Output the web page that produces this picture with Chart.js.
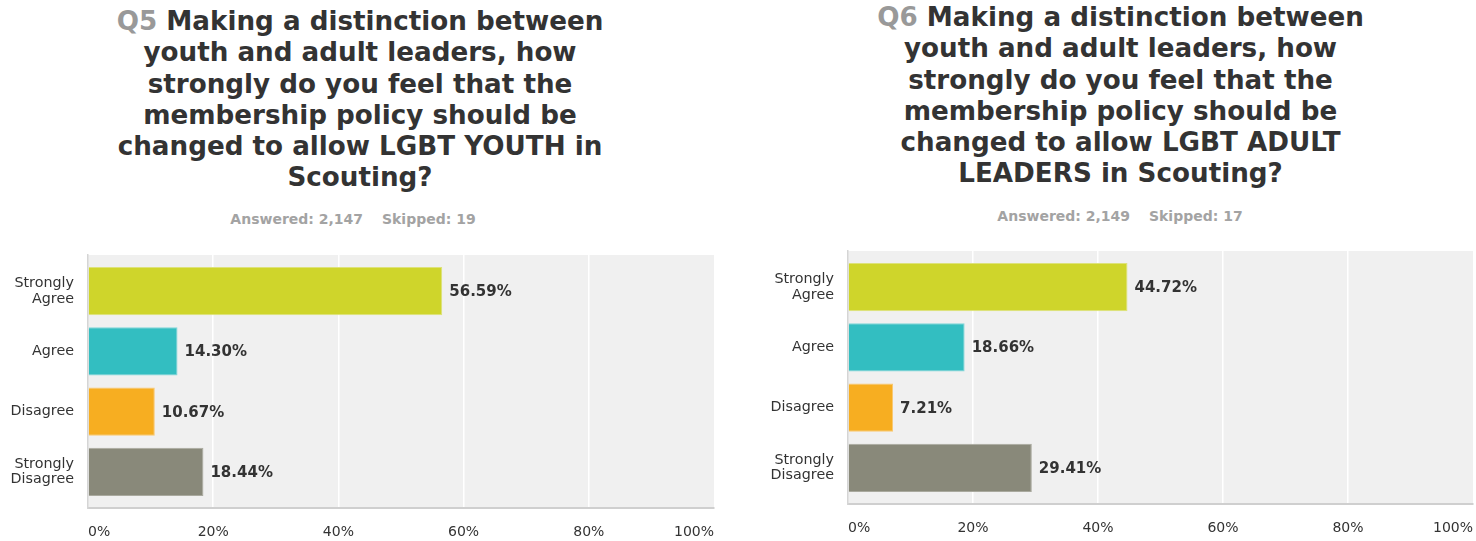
<!DOCTYPE html>
<html>
<head>
<meta charset="utf-8">
<script src="https://cdn.jsdelivr.net/npm/chart.js@4.4.1/dist/chart.umd.min.js"></script>
<style>
body { margin: 0; background: #fff; width: 1476px; height: 541px; position: relative; overflow: hidden; font-family: "DejaVu Sans", sans-serif; }
.title { position: absolute; width: 640px; text-align: center; font-weight: bold; font-size: 26.2px; line-height: 31.3px; color: #333; }
.title .qn { color: #999; }
.sub { position: absolute; width: 400px; text-align: center; font-weight: bold; font-size: 14px; line-height: 20px; color: #a3a3a3; }
.sub .gap { margin-left: 14px; }
canvas { position: absolute; }
</style>
</head>
<body>
<div class="title" style="left:40px; top:6px;"><span class="qn">Q5</span> Making a distinction between<br>youth and adult leaders, how<br>strongly do you feel that the<br>membership policy should be<br>changed to allow LGBT YOUTH in<br>Scouting?</div>
<div class="sub" style="left:153px; top:209px;">Answered: 2,147 <span class="gap">Skipped: 19</span></div>
<canvas id="q5Chart" width="730" height="301" style="left:0; top:240px;"></canvas>

<div class="title" style="left:800.5px; top:2px;"><span class="qn">Q6</span> Making a distinction between<br>youth and adult leaders, how<br>strongly do you feel that the<br>membership policy should be<br>changed to allow LGBT ADULT<br>LEADERS in Scouting?</div>
<div class="sub" style="left:920px; top:206px;">Answered: 2,149 <span class="gap">Skipped: 17</span></div>
<canvas id="q6Chart" width="716" height="301" style="left:760px; top:236px;"></canvas>

<script>
// answer options, top to bottom
const categories = [['Strongly', 'Agree'], 'Agree', 'Disagree', ['Strongly', 'Disagree']];
// percent of respondents
const q5Values = [56.59, 14.30, 10.67, 18.44];
const q6Values = [44.72, 18.66, 7.21, 29.41];
const xTickValues = [0, 20, 40, 60, 80, 100];

const barColors = ['#cfd52b', '#33bec1', '#f7ae21', '#89897a'];
const barBorders = ['#dde27a', '#7fd6d8', '#f9c870', '#a9a99e'];

// grey plot background
const plotBg = {
    id: 'plotBg',
    beforeDraw(chart) {
        const { ctx, chartArea: a } = chart;
        ctx.save();
        ctx.fillStyle = '#f0f0f0';
        ctx.fillRect(a.left, a.top, a.right - a.left, a.bottom - a.top);
        ctx.restore();
    }
};

// percent text to the right of each bar
const valueLabels = {
    id: 'valueLabels',
    afterDatasetsDraw(chart) {
        const ctx = chart.ctx;
        const meta = chart.getDatasetMeta(0);
        const vals = chart.data.datasets[0].data;
        ctx.save();
        ctx.font = 'bold 15px "DejaVu Sans"';
        ctx.fillStyle = '#333';
        ctx.textBaseline = 'middle';
        meta.data.forEach((bar, i) => {
            ctx.fillText(vals[i].x.toFixed(2) + '%', bar.x + 7, bar.y + 1);
        });
        ctx.restore();
    }
};

function makeChart(id, values, rightPad) {
    const ctx = document.getElementById(id).getContext('2d');
    return new Chart(ctx, {
        type: 'bar',
        data: {
            datasets: [{
                data: values.map((v, i) => ({ x: v, y: i })),
                backgroundColor: barColors,
                borderColor: barBorders,
                borderWidth: 1,
                categoryPercentage: 1,
                barPercentage: 0.8
            }]
        },
        options: {
            indexAxis: 'y',
            responsive: false,
            animation: false,
            layout: { padding: { top: 15, right: rightPad, left: 0, bottom: 0 } },
            plugins: {
                legend: { display: false },
                tooltip: { enabled: false }
            },
            scales: {
                x: {
                    type: 'linear',
                    min: 0,
                    max: 100,
                    afterBuildTicks: s => { s.ticks = xTickValues.map(v => ({ value: v })); },
                    afterFit: s => { s.height = 33; s.paddingLeft = 0; s.paddingRight = 0; },
                    ticks: {
                        align: 'inner',
                        padding: 16,
                        color: '#333',
                        font: { family: 'DejaVu Sans', size: 14 },
                        callback: v => v + '%'
                    },
                    grid: {
                        drawTicks: false,
                        lineWidth: 1.5,
                        color: c => (c.tick && (c.tick.value === 0 || c.tick.value === 100)) ? 'rgba(0,0,0,0)' : '#ffffff'
                    },
                    border: { display: true, color: '#cfcfcf', width: 2 }
                },
                y: {
                    type: 'linear',
                    reverse: true,
                    offset: false,
                    min: -0.6,
                    max: 3.6,
                    afterBuildTicks: s => { s.ticks = categories.map((c, i) => ({ value: i })); },
                    afterFit: s => { s.width = 88; s.paddingTop = 0; s.paddingBottom = 0; },
                    ticks: {
                        padding: 14,
                        color: '#333',
                        font: { family: 'DejaVu Sans', size: 14.3, lineHeight: 1.07 },
                        callback: v => categories[v]
                    },
                    grid: { display: false, drawTicks: false, offset: false },
                    border: { display: true, color: '#d5d5d5', width: 1.5 }
                }
            }
        },
        plugins: [plotBg, valueLabels]
    });
}

makeChart('q5Chart', q5Values, 16);
makeChart('q6Chart', q6Values, 3);
</script>
</body>
</html>
